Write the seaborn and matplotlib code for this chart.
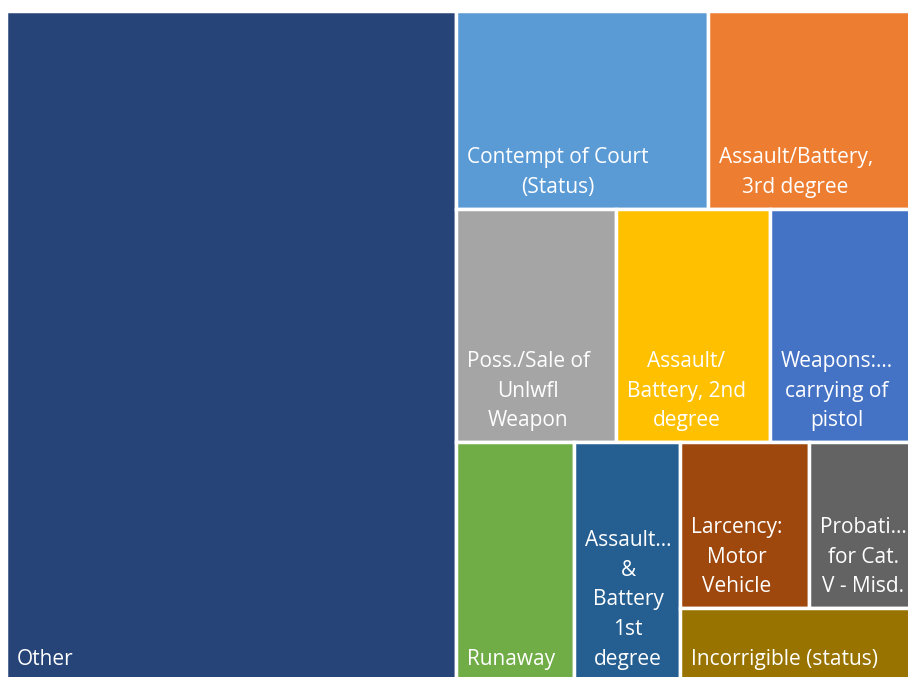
import matplotlib.pyplot as plt
import seaborn as sns
from matplotlib.patches import Rectangle

# --- data ---
offenses = [
    "Other",
    "Contempt of Court\n(Status)",
    "Assault/Battery,\n3rd degree",
    "Poss./Sale of\nUnlwfl\nWeapon",
    "Assault/\nBattery, 2nd\ndegree",
    "Weapons:…\ncarrying of\npistol",
    "Runaway",
    "Assault…\n&\nBattery\n1st\ndegree",
    "Larcency:\nMotor\nVehicle",
    "Probati…\nfor Cat.\nV - Misd.",
    "Incorrigible (status)",
]
counts = [2010, 333, 269, 249, 239, 220, 188, 169, 143, 113, 112]
colors = [
    "#264478", "#5B9BD5", "#ED7D31", "#A5A5A5", "#FFC000", "#4472C4",
    "#70AD47", "#255E91", "#9E480E", "#636363", "#997300",
]
# nesting of the tiles (indices into the lists above), splits alternate direction
groups = [0, [[1, 2], [3, 4, 5], [6, 7, [[8, 9], 10]]]]


def total(node):
    if isinstance(node, int):
        return counts[node]
    return sum(total(n) for n in node)


def layout(node, x, y, w, h, horizontal, out):
    if isinstance(node, int):
        out.append((node, x, y, w, h))
        return
    s = total(node)
    for child in node:
        frac = total(child) / s
        if horizontal:
            layout(child, x, y, w * frac, h, not horizontal, out)
            x += w * frac
        else:
            layout(child, x, y, w, h * frac, not horizontal, out)
            y += h * frac


def main():
    sns.set_theme(style="white")
    plt.rcParams["font.family"] = ["Open Sans", "DejaVu Sans"]

    fig = plt.figure(figsize=(9.08, 6.77), dpi=100)
    ax = fig.add_axes([0, 0, 1, 1])
    ax.set_xlim(0, 908)
    ax.set_ylim(677, 0)
    ax.axis("off")

    tiles = []
    layout(groups, 6, 11, 905, 670, True, tiles)

    for i, x, y, w, h in tiles:
        ax.add_patch(Rectangle((x, y), w, h, facecolor=colors[i],
                               edgecolor="white", linewidth=2.5))
        ax.text(x + 11, y + h - 11, offenses[i], color="white", fontsize=15,
                ha="left", va="bottom", multialignment="center",
                linespacing=1.55)

    fig.savefig("out.png", dpi=100)


if __name__ == "__main__":
    main()
